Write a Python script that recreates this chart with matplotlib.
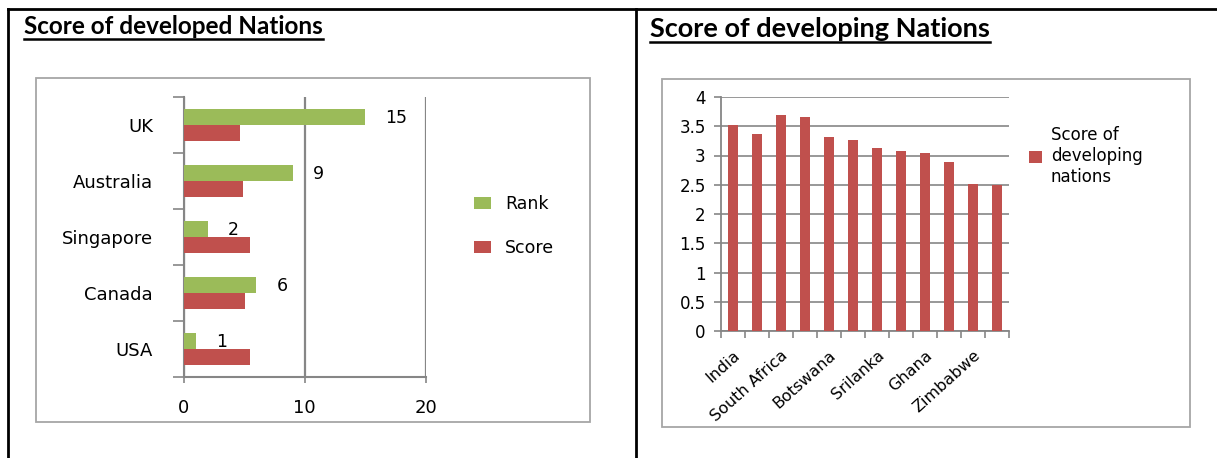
import numpy as np
import matplotlib.pyplot as plt
from matplotlib.lines import Line2D
from matplotlib.patches import Rectangle

# developed nations (bottom to top, as drawn)
dev_names = ['USA', 'Canada', 'Singapore', 'Australia', 'UK']
dev_rank = [1, 6, 2, 9, 15]
dev_score = [5.45, 5.1, 5.45, 4.9, 4.7]

# developing nations
devg_labels = ['India', '', 'South Africa', '', 'Botswana', '', 'Srilanka', '',
               'Ghana', '', 'Zimbabwe', '']
devg_score = [3.52, 3.37, 3.69, 3.65, 3.32, 3.26, 3.13, 3.07, 3.05, 2.89, 2.51, 2.49]

GREEN = '#9bbb59'
RED = '#c0504d'
GRID = '#868686'
W, H = 1217, 458

fig = plt.figure(figsize=(W / 100, H / 100), dpi=100)


def px_rect(x0, y0, x1, y1):
    # pixel box (top-left origin) -> figure fraction [l, b, w, h]
    return [x0 / W, 1 - y1 / H, (x1 - x0) / W, (y1 - y0) / H]


# table borders
for xs, ys in [([8, W], [9, 9]), ([8, 8], [9, H]), ([636, 636], [9, H])]:
    fig.add_artist(Line2D([x / W for x in xs], [1 - y / H for y in ys],
                          color='black', lw=2))

# chart frames
for x0, y0, x1, y1 in [(36, 78, 590, 422), (662, 79, 1190, 427)]:
    fig.add_artist(Rectangle((x0 / W, 1 - y1 / H), (x1 - x0) / W, (y1 - y0) / H,
                             fill=False, edgecolor='#a6a6a6', lw=1.3))

# titles with underline
renderer = fig.canvas.get_renderer()
for x, y, uline, txt, size in [(24, 27, 39, 'Score of developed Nations', 17.5),
                               (650, 29, 42, 'Score of developing Nations', 19.5)]:
    t = fig.text(x / W, 1 - y / H, txt, family='Lato', weight='bold',
                 fontsize=size, va='center', ha='left')
    bb = t.get_window_extent(renderer)
    uy = 1 - uline / H
    fig.add_artist(Line2D([bb.x0 / W, bb.x1 / W], [uy, uy], color='black', lw=1.8))

# ---- left chart: horizontal bars
ax1 = fig.add_axes(px_rect(183.5, 97, 426, 377))
ypos = np.arange(len(dev_names))
ax1.barh(ypos + 0.14, dev_rank, height=0.28, color=GREEN, label='Rank', zorder=3)
ax1.barh(ypos - 0.14, dev_score, height=0.28, color=RED, label='Score', zorder=3)
for y, v in zip(ypos, dev_rank):
    ax1.annotate(str(v), (v, y + 0.12), xytext=(20, 0), textcoords='offset pixels',
                 ha='left', va='center', fontsize=12.5, family='DejaVu Sans')
ax1.set_xlim(0, 20)
ax1.set_ylim(-0.5, len(dev_names) - 0.5)
ax1.set_xticks([0, 10, 20])
ax1.set_yticks(np.arange(-0.5, len(dev_names)), labels=[])
ax1.set_yticks(ypos, labels=dev_names, minor=True)
ax1.tick_params(axis='y', which='major', length=8, color=GRID, width=1.2)
ax1.tick_params(axis='y', which='minor', length=0, pad=22, labelsize=13)
ax1.tick_params(axis='x', length=4, color=GRID, width=1.2, pad=12, labelsize=13)
ax1.grid(axis='x', color=GRID, lw=1.6, zorder=0)
for s in ['top', 'right']:
    ax1.spines[s].set_visible(False)
for s in ['left', 'bottom']:
    ax1.spines[s].set_color(GRID)
    ax1.spines[s].set_linewidth(1.5)
ax1.legend(loc='center left', bbox_to_anchor=(458 / W, 1 - 226 / H),
           bbox_transform=fig.transFigure, frameon=False, fontsize=12.5,
           handlelength=1.0, handleheight=0.7, labelspacing=1.5, handletextpad=0.8)

# ---- right chart: vertical bars
ax2 = fig.add_axes(px_rect(721, 97, 1009, 331))
xpos = np.arange(len(devg_score))
ax2.bar(xpos, devg_score, width=0.42, color=RED, zorder=3,
        label='Score of\ndeveloping\nnations')
ax2.set_xlim(-0.5, len(devg_score) - 0.5)
ax2.set_ylim(0, 4)
yt = np.arange(0, 4.01, 0.5)
ax2.set_yticks(yt, labels=['%g' % v for v in yt])
ax2.set_xticks(np.arange(-0.5, len(devg_score)), labels=[])
ax2.set_xticks(xpos, labels=devg_labels, minor=True, rotation=42,
               ha='right', va='top', rotation_mode='anchor')
ax2.tick_params(axis='x', which='major', length=5, color=GRID, width=1.2)
ax2.tick_params(axis='x', which='minor', length=0, pad=12, labelsize=11.5)
ax2.tick_params(axis='y', length=5, color=GRID, width=1.2, pad=6, labelsize=12)
ax2.grid(axis='y', color=GRID, lw=1.2, zorder=0)
for s in ['top', 'right']:
    ax2.spines[s].set_visible(False)
for s in ['left', 'bottom']:
    ax2.spines[s].set_color(GRID)
    ax2.spines[s].set_linewidth(1.3)
ax2.legend(loc='upper left', bbox_to_anchor=(1014 / W, 1 - 111 / H),
           bbox_transform=fig.transFigure, frameon=False, fontsize=12,
           handlelength=0.8, handleheight=0.8, handletextpad=0.5)

fig.savefig('out.png', dpi=100)
